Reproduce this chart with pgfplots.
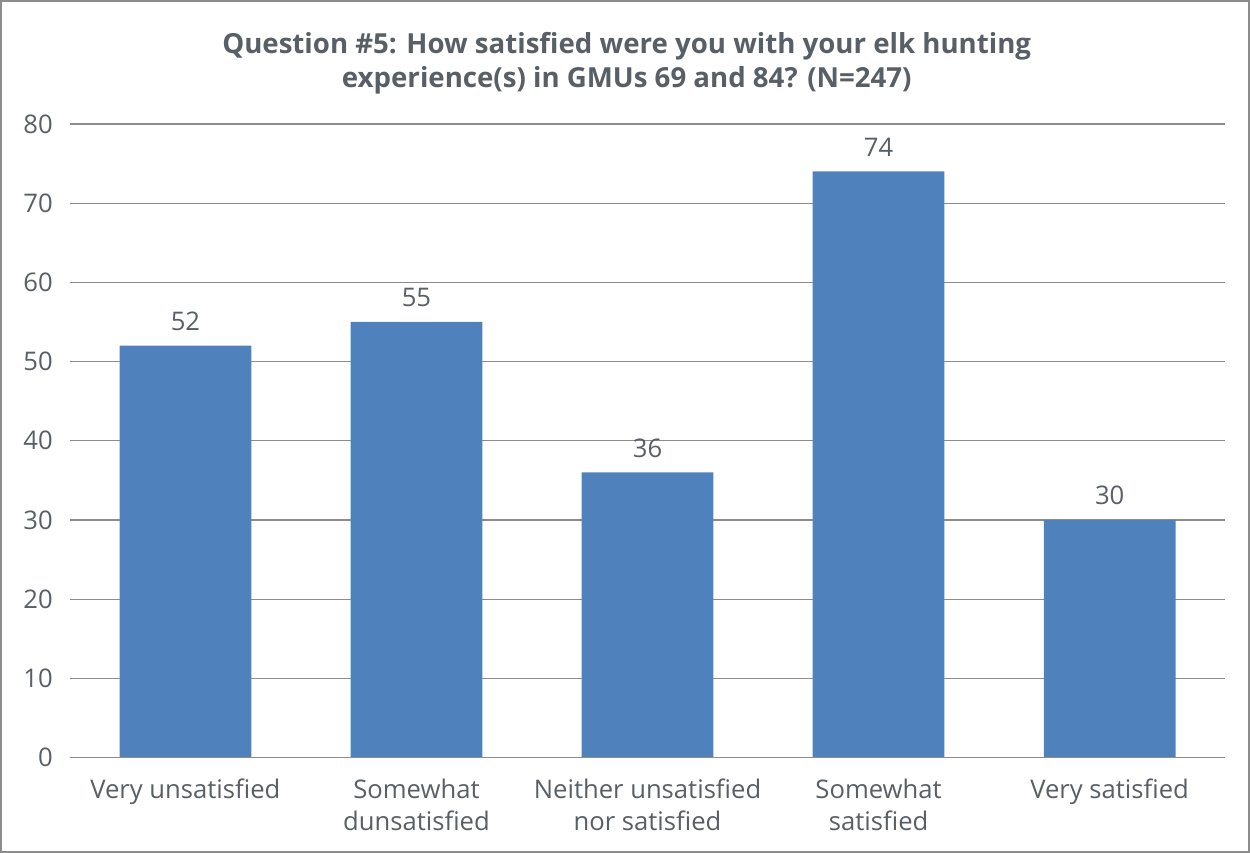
\documentclass[border=0pt]{standalone}
\usepackage{fontspec}
\setmainfont{Open Sans}
\usepackage{pgfplots}
\pgfplotsset{compat=1.18}
\definecolor{barblue}{HTML}{4F81BD}
\definecolor{txt}{HTML}{595F66}
\definecolor{gridc}{HTML}{8C8C8C}
\begin{document}
\begin{tikzpicture}
\begin{axis}[
    scale only axis,
    width=577pt, height=316.5pt,
    ymin=0, ymax=80, ytick={0,10,...,80},
    xmin=-0.5, xmax=4.5,
    xtick={0,1,2,3,4},
    xticklabels={Very unsatisfied, Somewhat\\dunsatisfied, Neither unsatisfied\\nor satisfied, Somewhat\\satisfied, Very satisfied},
    x tick label style={align=center, text=txt, font=\fontsize{12.8}{16}\selectfont, yshift=-7pt},
    y tick label style={text=txt, font=\fontsize{12.8}{16}\selectfont, xshift=-5pt},
    /pgf/number format/assume math mode=true,
    major tick length=0pt,
    axis line style={draw=none},
    ymajorgrids, grid style={gridc, line width=0.6pt},
    ybar, bar width=0.57,
    nodes near coords,
    every node near coord/.append style={text=txt, font=\fontsize{12.8}{16}\selectfont, yshift=4pt},
    clip=false,
]
\addplot[fill=barblue, draw=none] coordinates {(0,52) (1,55) (2,36) (3,74) (4,30)};
\draw[gridc, line width=0.8pt] (rel axis cs:0,0) -- (rel axis cs:1,0);
\node[font=\bfseries\fontsize{13.8}{17}\selectfont, text=txt, align=center, anchor=base] at ([yshift=18pt]rel axis cs:0.482,1) {Question \#5: How satisfied were you with your elk hunting\\experience(s) in GMUs 69 and 84? (N=247)};
\end{axis}
\draw[gridc, line width=0.8pt] ([shift={(-34.5pt,-47pt)}]current axis.south west) rectangle ([shift={(12pt,61.5pt)}]current axis.north east);
\end{tikzpicture}
\end{document}
